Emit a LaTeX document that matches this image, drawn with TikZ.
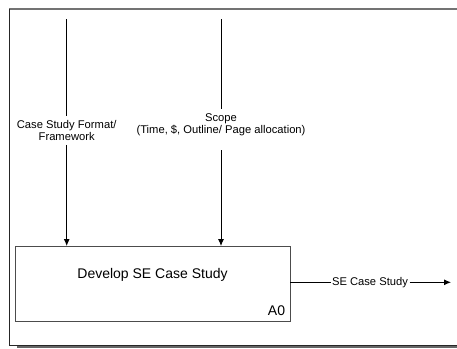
\documentclass[tikz,border=0pt]{standalone}
\usepackage{fontspec}
\setmainfont{Liberation Sans}
\usetikzlibrary{arrows.meta}
\tikzset{
  lbl/.style={inner sep=0pt, align=center, font=\fontsize{11.2}{12}\selectfont},
  conn/.style={line width=0.9pt, black},
  arr/.style={conn, -{Latex[length=7pt,width=6pt]}},
  actbox/.style={draw=black!70, line width=0.9pt, minimum width=275pt, minimum height=74.5pt, inner sep=0pt},
  bigtxt/.style={inner sep=0pt, font=\fontsize{14}{16}\selectfont}
}
\begin{document}
\begin{tikzpicture}[x=1pt,y=-1pt]
\useasboundingbox (0,0) rectangle (457,348);
% frame
\draw[black!55, line width=1.8pt] (9,9) -- (457,9);
\draw[black!60, line width=1.8pt] (17,346.8) -- (457,346.8);
\draw[black!85, line width=0.9pt] (9,9) -- (9,345) -- (457,345);
% activity box
\node[actbox] (box) at (152.5,283.75) {};
\node[bigtxt] (title) at (152.5,275) {Develop SE Case Study};
\node[bigtxt] (a0) at (276.5,311) {A0};
% input 1
\coordinate (t1) at (66.7,19);
\node[lbl] (c1) at (66.7,130.5) {Case Study Format/\\Framework};
\draw[conn] (t1) -- ([yshift=4pt]c1.north);
\draw[arr] ([yshift=-4pt]c1.south) -- (c1.south |- box.north);
% input 2
\coordinate (t2) at (221,19);
\node[lbl] (c2) at (221,125) {Scope\\(Time, \$, Outline/ Page allocation)};
\draw[conn] (t2) -- ([yshift=5pt]c2.north);
\draw[arr] ([yshift=-14pt]c2.south) -- (c2.south |- box.north);
% output
\node[lbl] (out) at (370,282.3) {SE Case Study};
\coordinate (o1) at (451,282.3);
\draw[conn] (box.east |- out.west) -- ([xshift=-1pt]out.west);
\draw[arr] ([xshift=1.5pt]out.east) -- (o1);
\end{tikzpicture}
\end{document}
